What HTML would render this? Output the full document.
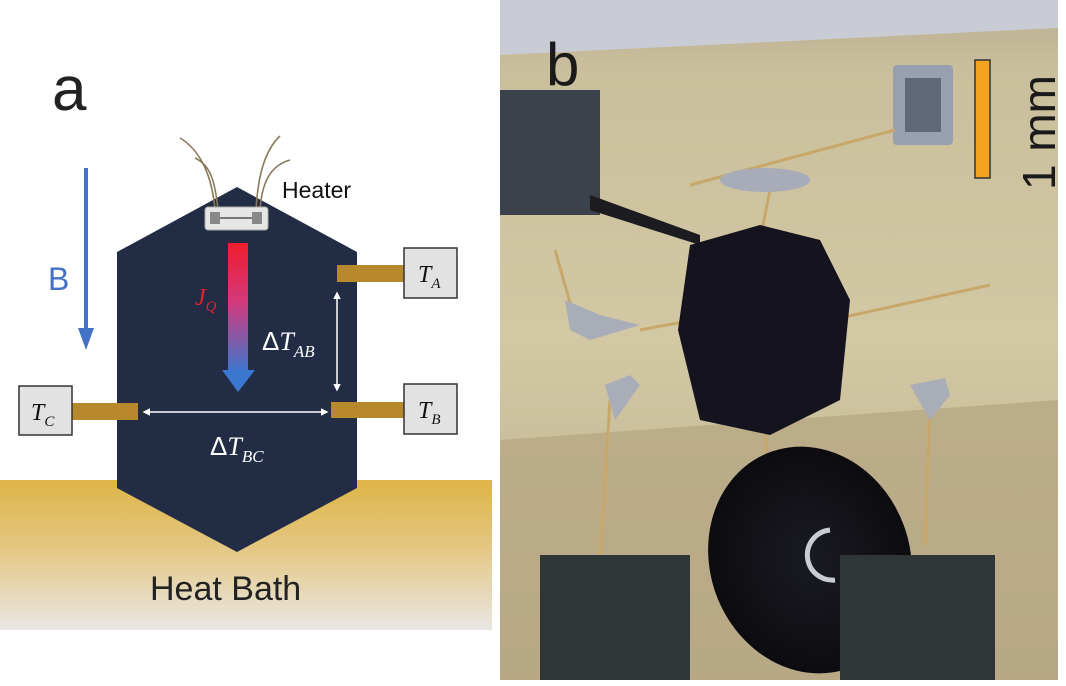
<!DOCTYPE html>
<html><head><meta charset="utf-8"><style>
html,body{margin:0;padding:0;background:#fff;width:1066px;height:686px;overflow:hidden}
svg{display:block}
text{font-family:"Liberation Sans",sans-serif}
.m{font-family:"Liberation Serif",serif;font-style:italic}
</style></head><body>
<svg width="1066" height="686" viewBox="0 0 1066 686" xmlns="http://www.w3.org/2000/svg">
<defs>
<linearGradient id="bath" x1="0" y1="0" x2="0" y2="1">
<stop offset="0" stop-color="#dfb548"/><stop offset="0.4" stop-color="#e3c47a"/><stop offset="1" stop-color="#e9e7e4"/></linearGradient>
<linearGradient id="jq" x1="0" y1="0" x2="0" y2="1">
<stop offset="0" stop-color="#f01c2c"/><stop offset="0.45" stop-color="#d4387a"/><stop offset="1" stop-color="#3a78d0"/></linearGradient>
<linearGradient id="wood" x1="0" y1="0" x2="0" y2="1">
<stop offset="0" stop-color="#b7ad93"/><stop offset="0.1" stop-color="#c9bf9c"/><stop offset="0.5" stop-color="#d2c8a4"/><stop offset="1" stop-color="#b9ac8a"/></linearGradient>
<radialGradient id="bl" cx="0.5" cy="0.5" r="0.5"><stop offset="0" stop-color="#1a1a22"/><stop offset="1" stop-color="#0c0c10"/></radialGradient>
<marker id="ah" viewBox="0 0 10 10" refX="8" refY="5" markerWidth="5" markerHeight="5" orient="auto-start-reverse"><path d="M0,0 L10,5 L0,10 z" fill="#fff"/></marker>
</defs>
<!-- panel a -->
<rect x="0" y="480" width="492" height="150" fill="url(#bath)"/>
<polygon points="237,187 357,252 357,488 237,552 117,488 117,252" fill="#222d45"/>
<line x1="86" y1="168" x2="86" y2="330" stroke="#4472c4" stroke-width="4"/>
<polygon points="78,328 94,328 86,350" fill="#4472c4"/>
<text x="48" y="290" font-size="32" fill="#4472c4">B</text>
<text x="52" y="110" font-size="62" fill="#222">a</text>
<!-- heater wires -->
<g fill="none" stroke="#8a7a5a" stroke-width="1.6">
<path d="M215,210 C212,175 200,150 180,138"/><path d="M218,210 C215,180 210,165 195,158"/>
<path d="M256,210 C258,175 265,150 280,136"/><path d="M260,210 C262,180 272,165 290,160"/>
</g>
<rect x="205" y="207" width="63" height="23" rx="3" fill="#e6e6e6" stroke="#aaa"/>
<rect x="210" y="212" width="10" height="12" fill="#888"/><rect x="252" y="212" width="10" height="12" fill="#888"/>
<line x1="220" y1="218" x2="252" y2="218" stroke="#777" stroke-width="2"/>
<text x="282" y="198" font-size="23" fill="#111">Heater</text>
<rect x="228" y="243" width="20" height="130" fill="url(#jq)"/>
<polygon points="222,370 255,370 238,392" fill="#3a78d0"/>
<text x="195" y="305" class="m" font-size="24" fill="#e8202c">J<tspan font-size="15" dy="6">Q</tspan></text>
<!-- thermometers -->
<rect x="337" y="265" width="68" height="17" fill="#b8892c"/>
<rect x="404" y="248" width="53" height="50" fill="#e2e2e2" stroke="#333" stroke-width="1.5"/>
<text x="418" y="282" class="m" font-size="24" fill="#111">T<tspan font-size="15" dy="6">A</tspan></text>
<rect x="331" y="402" width="74" height="16" fill="#b8892c"/>
<rect x="404" y="384" width="53" height="50" fill="#e2e2e2" stroke="#333" stroke-width="1.5"/>
<text x="418" y="418" class="m" font-size="24" fill="#111">T<tspan font-size="15" dy="6">B</tspan></text>
<rect x="72" y="403" width="66" height="17" fill="#b8892c"/>
<rect x="19" y="386" width="53" height="49" fill="#e2e2e2" stroke="#333" stroke-width="1.5"/>
<text x="31" y="420" class="m" font-size="24" fill="#111">T<tspan font-size="15" dy="6">C</tspan></text>
<line x1="337" y1="293" x2="337" y2="390" stroke="#fff" stroke-width="1.5" marker-start="url(#ah)" marker-end="url(#ah)"/>
<line x1="144" y1="412" x2="327" y2="412" stroke="#fff" stroke-width="1.5" marker-start="url(#ah)" marker-end="url(#ah)"/>
<text x="262" y="350" font-size="26" fill="#fff">Δ<tspan class="m">T</tspan><tspan class="m" font-size="17" dy="7">AB</tspan></text>
<text x="210" y="455" font-size="26" fill="#fff">Δ<tspan class="m">T</tspan><tspan class="m" font-size="17" dy="7">BC</tspan></text>
<text x="150" y="600" font-size="34" fill="#222">Heat Bath</text>
<!-- panel b photo -->
<rect x="500" y="0" width="558" height="680" fill="url(#wood)"/>
<polygon points="500,0 1058,0 1058,28 500,55" fill="#c9ccd4"/>
<polygon points="500,440 1058,400 1058,680 500,680" fill="#b8a884" opacity="0.8"/>
<rect x="500" y="90" width="100" height="125" fill="#3c424c"/>
<polygon points="590,195 700,235 700,245 590,210" fill="#1c1c20"/>
<rect x="893" y="65" width="60" height="80" rx="4" fill="#98a0b0"/>
<rect x="905" y="78" width="36" height="54" fill="#606878"/>
<g stroke="#c8a86a" stroke-width="3" fill="none">
<line x1="690" y1="185" x2="895" y2="130"/>
<line x1="740" y1="340" x2="990" y2="285"/>
<line x1="640" y1="330" x2="720" y2="315"/>
<line x1="610" y1="400" x2="600" y2="560"/>
<line x1="930" y1="400" x2="925" y2="545"/>
<line x1="760" y1="340" x2="768" y2="470"/>
<line x1="770" y1="190" x2="760" y2="240"/>
<line x1="555" y1="250" x2="575" y2="320"/>
</g>
<ellipse cx="765" cy="180" rx="45" ry="12" fill="#a7acb8"/>
<polygon points="565,300 600,315 640,325 590,340 570,330" fill="#a8adb8"/>
<polygon points="605,385 630,375 640,385 615,420" fill="#a8adb8"/>
<polygon points="910,385 945,378 950,395 930,420" fill="#a8adb8"/>
<polygon points="690,245 760,225 820,240 850,300 840,400 770,435 700,420 678,330" fill="#14131e"/>
<ellipse cx="810" cy="560" rx="100" ry="115" transform="rotate(-20 810 560)" fill="url(#bl)"/>
<path d="M830,530 A25,25 0 1 0 835,580" stroke="#c8ccd4" stroke-width="5" fill="none"/>
<rect x="540" y="555" width="150" height="125" fill="#2f3638"/>
<rect x="840" y="555" width="155" height="125" fill="#2f3638"/>
<text x="546" y="85" font-size="60" fill="#1a1a1a">b</text>
<rect x="975" y="60" width="15" height="118" fill="#f2a421" stroke="#333" stroke-width="1.5"/>
<text transform="translate(1055,190) rotate(-90)" font-size="46" fill="#1a1a1a">1 mm</text>
</svg>
</body></html>
